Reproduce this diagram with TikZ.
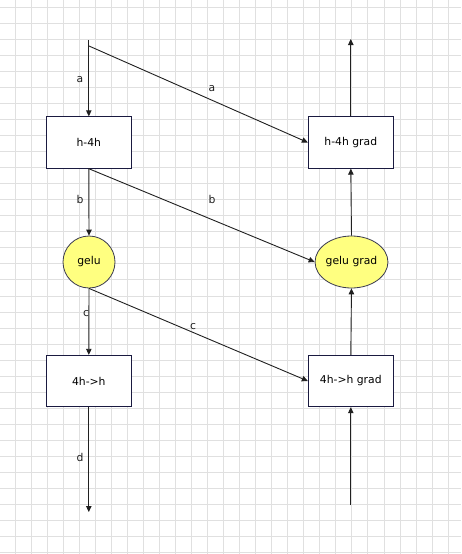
\documentclass[tikz,border=0pt]{standalone}
\usepackage{fontspec}
\setmainfont{DejaVu Sans}
\usetikzlibrary{arrows.meta,shapes.geometric}
\definecolor{gridcol}{HTML}{E0E0E0}
\definecolor{boxline}{HTML}{1A1A40}
\definecolor{blobfill}{HTML}{FFFF80}
\definecolor{blobline}{HTML}{3A3A50}
\definecolor{linecol}{HTML}{202020}
\begin{document}
\begin{tikzpicture}[x=1pt,y=-1pt,
  box/.style={draw=boxline, fill=white, line width=0.9pt, minimum width=85pt,
    minimum height=51.5pt, inner sep=0pt, font=\fontsize{10.8}{12}\selectfont},
  blob/.style={ellipse, draw=blobline, fill=blobfill, line width=0.8pt,
    minimum height=52pt, inner sep=0pt, font=\fontsize{10.8}{12}\selectfont},
  flow/.style={draw=linecol, line width=0.9pt, -{Triangle[length=6pt,width=5.5pt]}},
  lbl/.style={font=\fontsize{10.8}{12}\selectfont, text=linecol, inner sep=0pt}]
% canvas and grid
\fill[white] (0,0) rectangle (461,554);
\useasboundingbox (0,0) rectangle (461,554);
\foreach \k in {0,...,27} \draw[gridcol, line width=0.8pt] ({15+16.04*\k},0) -- ({15+16.04*\k},554);
\foreach \k in {0,...,34} \draw[gridcol, line width=0.8pt] (0,{7+16.05*\k}) -- (461,{7+16.05*\k});

% forward pass (left) and backward pass (right)
\node[box] (A) at (88.8,142.5) {h-4h};
\node[box] (AG) at (350.8,142.5) {h-4h grad};
\node[blob, minimum width=52pt] (G) at (89,262) {gelu};
\node[blob, minimum width=69pt] (GG) at (351.5,262) {gelu grad};
\node[box] (B) at (88.8,381) {4h->h};
\node[box] (BG) at (350.8,381) {4h->h grad};

\coordinate (top) at (88.8,40);
\coordinate (fork) at (89,46);
\coordinate (bottom) at (88.8,512);
\coordinate (gin) at (350.8,505);
\coordinate (gout) at (350.8,39);

% forward chain
\draw[flow] (top) -- (A.north);
\draw[flow] (A.south) -- (G.north);
\draw[flow] (G.south) -- (B.north);
\draw[flow] (B.south) -- (bottom);

% activations handed to the backward pass
\draw[flow] (fork) -- (AG.west);
\draw[flow] (A.south) -- (GG.west);
\draw[flow] (G.south) -- (BG.west);

% backward chain
\draw[flow] (gin) -- (BG.south);
\draw[flow] (BG.north) -- (GG.south);
\draw[flow] (GG.north) -- (AG.south);
\draw[flow] (AG.north) -- (gout);

% edge labels
\node[lbl] (la1) at (80,80) {a};
\node[lbl] (la2) at (212,89) {a};
\node[lbl] (lb1) at (80,199) {b};
\node[lbl] (lb2) at (212,199) {b};
\node[lbl] (lc1) at (86,314) {c};
\node[lbl] (lc2) at (193,327) {c};
\node[lbl] (ld) at (80,457) {d};
\end{tikzpicture}
\end{document}
